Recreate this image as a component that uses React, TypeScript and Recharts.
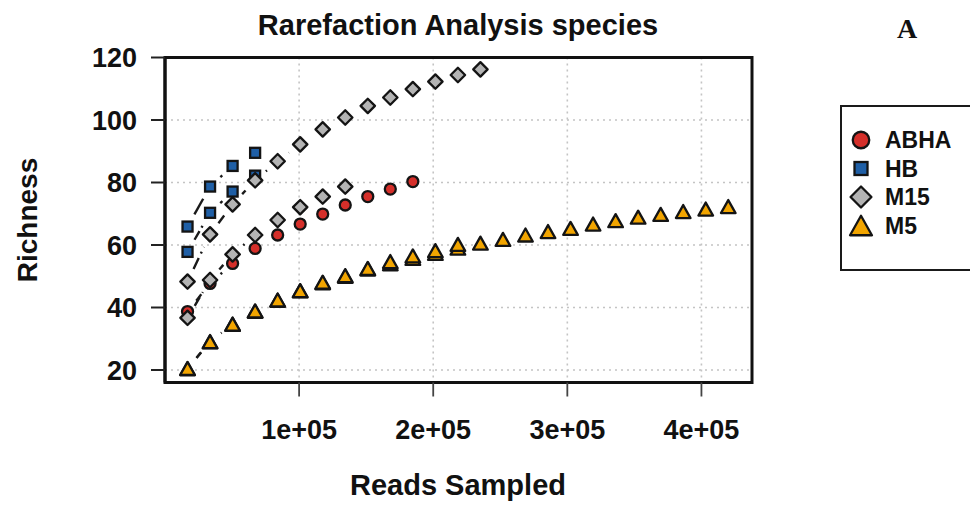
import React from 'react';
import { ScatterChart, Scatter, XAxis, YAxis, CartesianGrid, Legend, ReferenceArea } from 'recharts';

// Reads sampled (rarefaction steps)
const READS = [
  16800, 33600, 50400, 67200, 84000, 100800, 117600, 134400, 151200, 168000,
  184800, 201600, 218400, 235200, 252000, 268800, 285600, 302400, 319200, 336000,
  352800, 369600, 386400, 403200, 420000,
];

// Richness per sample curve
const ABHA_1 = [38.7, 47.7, 54.1, 58.9, 63.2, 66.7, 69.9, 72.8, 75.5, 77.9, 80.3];
const HB_1 = [65.9, 78.7, 85.3, 89.5];
const HB_2 = [57.8, 70.3, 77.1, 82.2];
const M15_1 = [48.3, 63.4, 73.0, 80.7, 86.8, 92.2, 97.0, 100.8, 104.5, 107.2, 109.9, 112.3, 114.4, 116.2];
const M15_2 = [36.7, 48.8, 57.0, 63.2, 68.0, 72.1, 75.5, 78.7];
const M5_1 = [20.4, 29.0, 34.6, 38.8, 42.3, 45.3, 47.9, 50.0, 52.3, 54.0, 55.7, 57.3, 59.0, 60.6, 61.8, 63.2, 64.3, 65.3, 66.7, 67.8, 68.9, 69.8, 70.7, 71.5, 72.3];
const M5_2 = [20.5, 29.1, 34.7, 38.9, 42.4, 45.4, 48.1, 50.2, 52.5, 54.7, 56.5, 58.2, 60.2];

const GROUPS = ['ABHA', 'HB', 'M15', 'M5'];
const X_TICKS = [100000, 200000, 300000, 400000];
const X_TICK_LABELS = ['1e+05', '2e+05', '3e+05', '4e+05'];
const Y_TICKS = [20, 40, 60, 80, 100, 120];
const X_DOMAIN = [0, 437700];
const Y_DOMAIN = [16, 120];

const TITLE = 'Rarefaction Analysis species';
const PANEL = 'A';
const X_TITLE = 'Reads Sampled';
const Y_TITLE = 'Richness';

const COLORS: Record<string, string> = {
  ABHA: '#D52F2A',
  HB: '#1F5FA6',
  M15: '#B4B4B4',
  M5: '#F2A500',
};
const SHAPES: Record<string, string> = {
  ABHA: 'circle',
  HB: 'square',
  M15: 'diamond',
  M5: 'triangle',
};

const CURVES = [
  { group: 'ABHA', values: ABHA_1, dash: '9 5' },
  { group: 'HB', values: HB_1, dash: '20 5 3 5' },
  { group: 'HB', values: HB_2, dash: '10 4 2 4' },
  { group: 'M15', values: M15_1, dash: '12 5 2 5' },
  { group: 'M15', values: M15_2, dash: '10 5' },
  { group: 'M5', values: M5_1, dash: '10 5' },
  { group: 'M5', values: M5_2, dash: '10 5' },
];

const FONT = "'Liberation Sans', Arial, Helvetica, sans-serif";
const GAP = 14;

function Marker({ kind, cx, cy, fill, s }: { kind: string; cx: number; cy: number; fill: string; s: number }) {
  const sw = 2.3;
  const stroke = '#141414';
  if (cx == null || cy == null || isNaN(cx) || isNaN(cy)) return null;
  if (kind === 'circle') {
    return <circle cx={cx} cy={cy} r={5.5 * s} fill={fill} stroke={stroke} strokeWidth={sw} />;
  }
  if (kind === 'square') {
    const h = 5.0 * s;
    return <rect x={cx - h} y={cy - h} width={2 * h} height={2 * h} fill={fill} stroke={stroke} strokeWidth={sw} />;
  }
  if (kind === 'diamond') {
    const d = 7.2 * s;
    return (
      <polygon
        points={`${cx},${cy - d} ${cx + d},${cy} ${cx},${cy + d} ${cx - d},${cy}`}
        fill={fill}
        stroke={stroke}
        strokeWidth={sw}
        strokeLinejoin="round"
      />
    );
  }
  const w = 7.3 * s;
  const h = 6.5 * s;
  return (
    <polygon
      points={`${cx},${cy - h} ${cx + w},${cy + h} ${cx - w},${cy + h}`}
      fill={fill}
      stroke={stroke}
      strokeWidth={sw}
      strokeLinejoin="round"
    />
  );
}

function toPoints(values: number[]) {
  return values.map((y, i) => ({ x: READS[i], y }));
}

// R "type = b" style: segments between points, with a gap around each point
function gappedLine(dash: string) {
  return (props: any) => {
    const pts = props.points || [];
    const segs: any[] = [];
    for (let i = 1; i < pts.length; i++) {
      const a = pts[i - 1];
      const b = pts[i];
      const dx = b.x - a.x;
      const dy = b.y - a.y;
      const d = Math.hypot(dx, dy);
      if (!(d > 2 * GAP)) continue;
      const ux = dx / d;
      const uy = dy / d;
      segs.push(
        <line key={i} x1={a.x + ux * GAP} y1={a.y + uy * GAP} x2={b.x - ux * GAP} y2={b.y - uy * GAP} />
      );
    }
    return (
      <g stroke="#1a1a1a" strokeWidth={2.4} strokeDasharray={dash} fill="none">
        {segs}
      </g>
    );
  };
}

function renderLegend() {
  const rowY = [35, 63.5, 92, 120.5];
  const scale: Record<string, number> = { circle: 1.5, square: 1.3, diamond: 1.45, triangle: 1.5 };
  return (
    <div
      style={{
        width: 140,
        height: 166,
        border: '2px solid #1a1a1a',
        boxSizing: 'border-box',
        background: '#fff',
        position: 'relative',
      }}
    >
      <svg width={140} height={166} style={{ position: 'absolute', left: -2, top: -2, overflow: 'visible' }}>
        {GROUPS.map((g, i) => (
          <g key={g}>
            <Marker kind={SHAPES[g]} cx={21} cy={rowY[i]} fill={COLORS[g]} s={scale[SHAPES[g]]} />
            <text x={45} y={rowY[i] + 8} fontFamily={FONT} fontWeight={700} fontSize={23} fill="#111">
              {g}
            </text>
          </g>
        ))}
      </svg>
    </div>
  );
}

export default function App() {
  const tickStyle = { fill: '#111', fontSize: 27, fontWeight: 700, fontFamily: FONT };
  return (
    <div style={{ position: 'absolute', left: 0, top: 0, width: 970, height: 505, background: '#fff', overflow: 'hidden' }}>
      <ScatterChart width={970} height={505} margin={{ top: 57.5, right: 218, bottom: 0, left: 0 }}>
        <CartesianGrid stroke="#c4c4c4" strokeDasharray="2 4" strokeWidth={1.6} />
        <XAxis
          type="number"
          dataKey="x"
          domain={X_DOMAIN}
          allowDataOverflow
          ticks={X_TICKS}
          interval={0}
          tickFormatter={(v: number) => X_TICK_LABELS[X_TICKS.indexOf(v)]}
          height={122.5}
          tickSize={14}
          tickMargin={23}
          axisLine={{ stroke: '#111', strokeWidth: 3 }}
          tickLine={{ stroke: '#444', strokeWidth: 1.8 }}
          tick={tickStyle}
        />
        <YAxis
          type="number"
          dataKey="y"
          domain={Y_DOMAIN}
          allowDataOverflow
          ticks={Y_TICKS}
          interval={0}
          width={165}
          tickSize={14}
          tickMargin={14}
          axisLine={{ stroke: '#111', strokeWidth: 3 }}
          tickLine={{ stroke: '#222', strokeWidth: 2 }}
          tick={tickStyle}
        />
        <ReferenceArea
          x1={X_DOMAIN[0]}
          x2={X_DOMAIN[1]}
          y1={Y_DOMAIN[0]}
          y2={Y_DOMAIN[1]}
          fill="none"
          fillOpacity={0}
          stroke="#111"
          strokeWidth={3}
          ifOverflow="visible"
        />
        {CURVES.map((c, i) => (
          <Scatter
            key={i}
            name={c.group}
            data={toPoints(c.values)}
            fill={COLORS[c.group]}
            isAnimationActive={false}
            legendType="none"
            line={gappedLine(c.dash)}
            shape={(p: any) => (
              <Marker kind={SHAPES[c.group]} cx={p.cx} cy={p.cy} fill={COLORS[c.group]} s={1} />
            )}
          />
        ))}
        <Legend
          layout="horizontal"
          verticalAlign="middle"
          align="center"
          wrapperStyle={{ left: 840, top: 105, width: 140, height: 166 }}
          content={renderLegend}
        />
      </ScatterChart>
      <svg width={970} height={505} style={{ position: 'absolute', left: 0, top: 0, pointerEvents: 'none' }}>
        <text x={458} y={35} textAnchor="middle" fontFamily={FONT} fontWeight={700} fontSize={29} fill="#111">
          {TITLE}
        </text>
        <text
          x={907}
          y={38}
          textAnchor="middle"
          fontFamily="'Liberation Serif', 'Times New Roman', serif"
          fontWeight={700}
          fontSize={28}
          fill="#111"
        >
          {PANEL}
        </text>
        <text x={458} y={495} textAnchor="middle" fontFamily={FONT} fontWeight={700} fontSize={29} fill="#111">
          {X_TITLE}
        </text>
        <text
          transform="translate(37,220) rotate(-90)"
          textAnchor="middle"
          fontFamily={FONT}
          fontWeight={700}
          fontSize={28}
          fill="#111"
        >
          {Y_TITLE}
        </text>
      </svg>
    </div>
  );
}
